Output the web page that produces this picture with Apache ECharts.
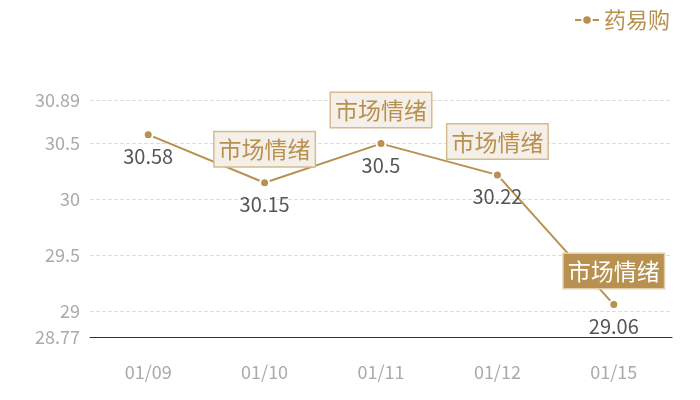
<!DOCTYPE html>
<html>
<head>
<meta charset="utf-8">
<script src="https://cdn.jsdelivr.net/npm/echarts@6/dist/echarts.min.js"></script>
<style>
  html, body { margin: 0; padding: 0; background: #fff; }
  #main { width: 700px; height: 400px; }
</style>
</head>
<body>
<div id="main"></div>
<script>
  var dates = ['01/09', '01/10', '01/11', '01/12', '01/15'];
  var prices = [30.58, 30.15, 30.5, 30.22, 29.06];
  var moodDates = ['01/10', '01/11', '01/12', '01/15'];
  var moodLabel = '市场情绪';
  var seriesName = '药易购';
  var yMin = 28.77;
  var yMax = 30.89;

  var gold = '#b8904f';
  var font = 'Noto Sans CJK SC';

  var marks = moodDates.map(function (d, i) {
    var last = i === moodDates.length - 1;
    return {
      coord: [d, prices[dates.indexOf(d)]],
      label: {
        color: last ? '#fff' : gold,
        backgroundColor: last ? gold : '#f4efe8',
        borderColor: last ? '#e3cfae' : '#d6bb8e',
        borderWidth: 1.5
      }
    };
  });

  var chart = echarts.init(document.getElementById('main'));
  chart.setOption({
    animation: false,
    textStyle: { fontFamily: font },
    legend: {
      right: 25,
      top: 4,
      itemWidth: 24,
      itemHeight: 12,
      textStyle: { color: gold, fontSize: 22, fontFamily: font },
      data: [seriesName]
    },
    grid: { left: 90, right: 28, top: 100, bottom: 63 },
    xAxis: {
      type: 'category',
      data: dates,
      axisLine: { lineStyle: { color: '#333', width: 1 } },
      axisTick: { show: false },
      axisLabel: { color: '#aaa', fontSize: 18, margin: 26, fontFamily: font }
    },
    yAxis: {
      type: 'value',
      min: yMin,
      max: yMax,
      axisLine: { show: false },
      axisTick: { show: false },
      axisLabel: { color: '#aaa', fontSize: 18, margin: 10, fontFamily: font },
      splitLine: { lineStyle: { color: '#ddd', type: 'dashed' } }
    },
    series: [{
      name: seriesName,
      type: 'line',
      data: prices,
      symbol: 'circle',
      symbolSize: 9,
      lineStyle: { color: gold, width: 2 },
      itemStyle: { color: gold, borderColor: '#fff', borderWidth: 2 },
      label: {
        show: true,
        position: 'bottom',
        distance: 6,
        color: '#555',
        fontSize: 20,
        fontFamily: font
      },
      markPoint: {
        symbol: 'circle',
        symbolSize: 1,
        itemStyle: { color: 'rgba(0,0,0,0)' },
        label: {
          show: true,
          position: 'top',
          distance: 16,
          formatter: moodLabel,
          fontSize: 23,
          lineHeight: 25,
          padding: [5, 4, 4, 4],
          fontFamily: font
        },
        data: marks
      }
    }]
  });
</script>
</body>
</html>
